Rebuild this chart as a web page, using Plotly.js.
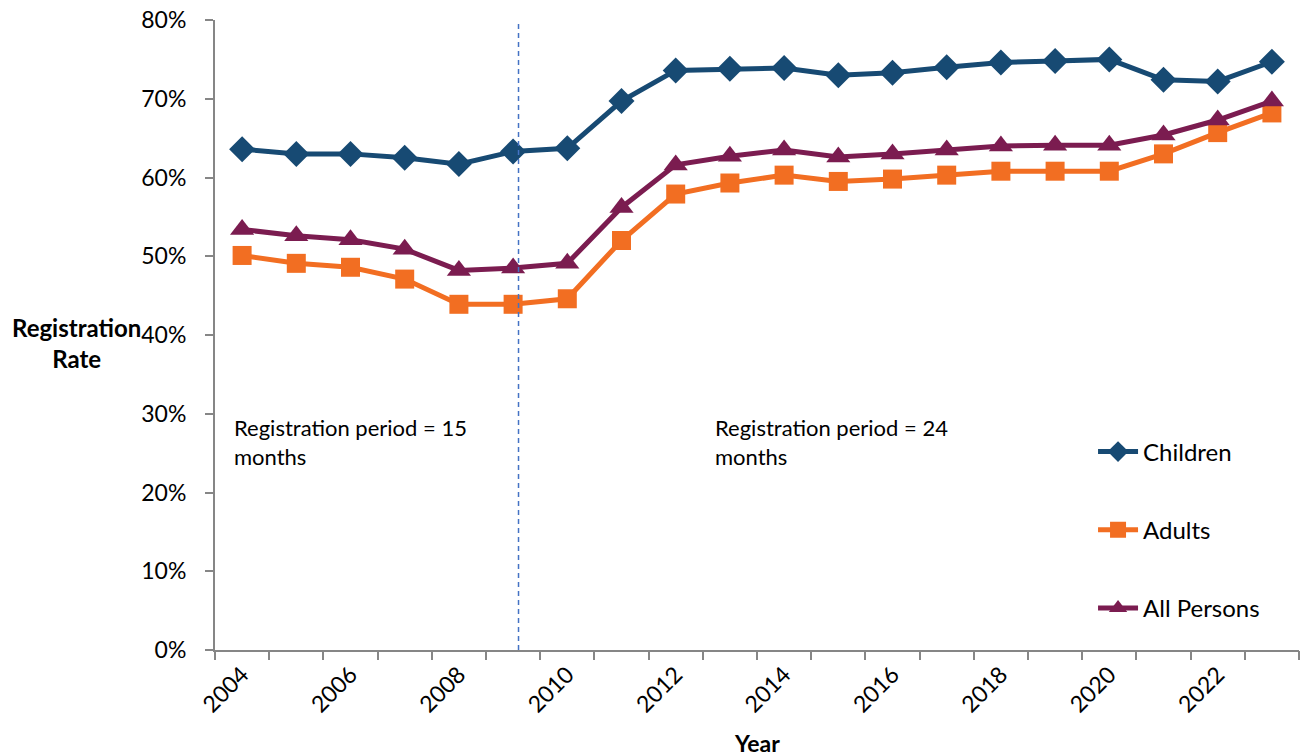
<!DOCTYPE html>
<html>
<head>
<meta charset="utf-8">
<script src="https://cdn.plot.ly/plotly-3.0.1.min.js"></script>
<style>html,body{margin:0;padding:0;background:#fff;}#chart{width:1307px;height:756px;}</style>
</head>
<body>
<div id="chart"></div>
<script>
const years = [2004,2005,2006,2007,2008,2009,2010,2011,2012,2013,2014,2015,2016,2017,2018,2019,2020,2021,2022,2023];
const children = [63.6,63.0,63.0,62.5,61.7,63.3,63.7,69.7,73.6,73.8,73.9,73.0,73.3,74.0,74.6,74.8,75.0,72.4,72.2,74.7];
const adults = [50.1,49.1,48.6,47.1,43.9,43.9,44.6,52.0,57.9,59.3,60.3,59.5,59.8,60.3,60.8,60.8,60.8,63.0,65.7,68.2];
const allPersons = [53.4,52.6,52.1,50.9,48.2,48.5,49.1,56.2,61.6,62.7,63.5,62.6,63.0,63.5,64.0,64.1,64.1,65.4,67.3,69.7];
const labelYears = [2004,2006,2008,2010,2012,2014,2016,2018,2020,2022];
const yTicks = [0,10,20,30,40,50,60,70,80];
const seriesNames = ['Children','Adults','All Persons'];
const colors = ['#174A73','#F26E22','#7B1C50'];
const symbols = ['diamond','square','triangle-up'];
const sizes = [20,19,21];
const font = 'Lato, "Liberation Sans", sans-serif';

const seriesVals = [children, adults, allPersons];
const traces = seriesVals.map((vals,i)=>({
  x: years, y: vals, name: seriesNames[i], type:'scatter', mode:'lines+markers',
  line:{color:colors[i], width:5},
  marker:{symbol:symbols[i], size:sizes[i], color:colors[i]},
  legendgroup:'g'+i, xaxis:'x', yaxis:'y'
}));
traces.push({x:[years[0]], y:[null], xaxis:'x2', yaxis:'y', showlegend:false, hoverinfo:'skip', mode:'markers'});

const layout = {
  width:1307, height:756,
  margin:{l:215, r:8, t:20, b:106},
  paper_bgcolor:'#fff', plot_bgcolor:'#fff',
  font:{family:font, size:23, color:'#000'},
  showlegend:true,
  legend:{x:0.81, y:0.35, xanchor:'left', yanchor:'top', font:{family:font,size:24,color:'#000'},
          tracegroupgap:44, itemwidth:40, bgcolor:'rgba(0,0,0,0)'},
  xaxis:{range:[years[0]-0.5, years[years.length-1]+0.5], tickmode:'array', tickvals:labelYears,
         ticktext:labelYears.map(String), tickangle:-45, ticks:'', showgrid:false, zeroline:false,
         showline:true, linecolor:'#868686', linewidth:2, tickfont:{family:font,size:23,color:'#000'}},
  xaxis2:{overlaying:'x', anchor:'y', side:'bottom', range:[years[0]-0.5, years[years.length-1]+0.5],
          tickmode:'linear', tick0:years[0]-0.5, dtick:1, ticks:'outside', ticklen:9, tickwidth:2,
          tickcolor:'#868686', showticklabels:false, showgrid:false, zeroline:false, showline:false},
  yaxis:{range:[0,80], tickmode:'array', tickvals:yTicks, ticktext:yTicks.map(v=>v+'%'),
         ticks:'outside', ticklen:8, tickwidth:2, tickcolor:'#868686', showgrid:false, zeroline:false,
         ticklabelstandoff:14,
         showline:true, linecolor:'#868686', linewidth:2, tickfont:{family:font,size:23,color:'#000'}},
  shapes:[{type:'line', xref:'x', yref:'paper', x0:2009.1, x1:2009.1, y0:0, y1:0.995,
           line:{color:'#4472C4', width:1.5, dash:'5px,4px'}}],
  annotations:[
    {xref:'paper', yref:'paper', x:-0.128, y:0.487, xanchor:'center', yanchor:'middle', showarrow:false,
     text:'<b>Registration<br>Rate</b>', font:{family:font,size:24,color:'#000'}, align:'center'},
    {xref:'paper', yref:'paper', x:0.5, y:-0.148, xanchor:'center', yanchor:'middle', showarrow:false,
     text:'<b>Year</b>', font:{family:font,size:23,color:'#000'}},
    {xref:'paper', yref:'paper', x:0.016, y:0.378, xanchor:'left', yanchor:'top', showarrow:false, align:'left',
     text:'Registration period = 15<br>months', font:{family:font,size:22,color:'#000'}},
    {xref:'paper', yref:'paper', x:0.459, y:0.378, xanchor:'left', yanchor:'top', showarrow:false, align:'left',
     text:'Registration period = 24<br>months', font:{family:font,size:22,color:'#000'}}
  ]
};
Plotly.newPlot('chart', traces, layout, {displayModeBar:false, staticPlot:true});
</script>
</body>
</html>
